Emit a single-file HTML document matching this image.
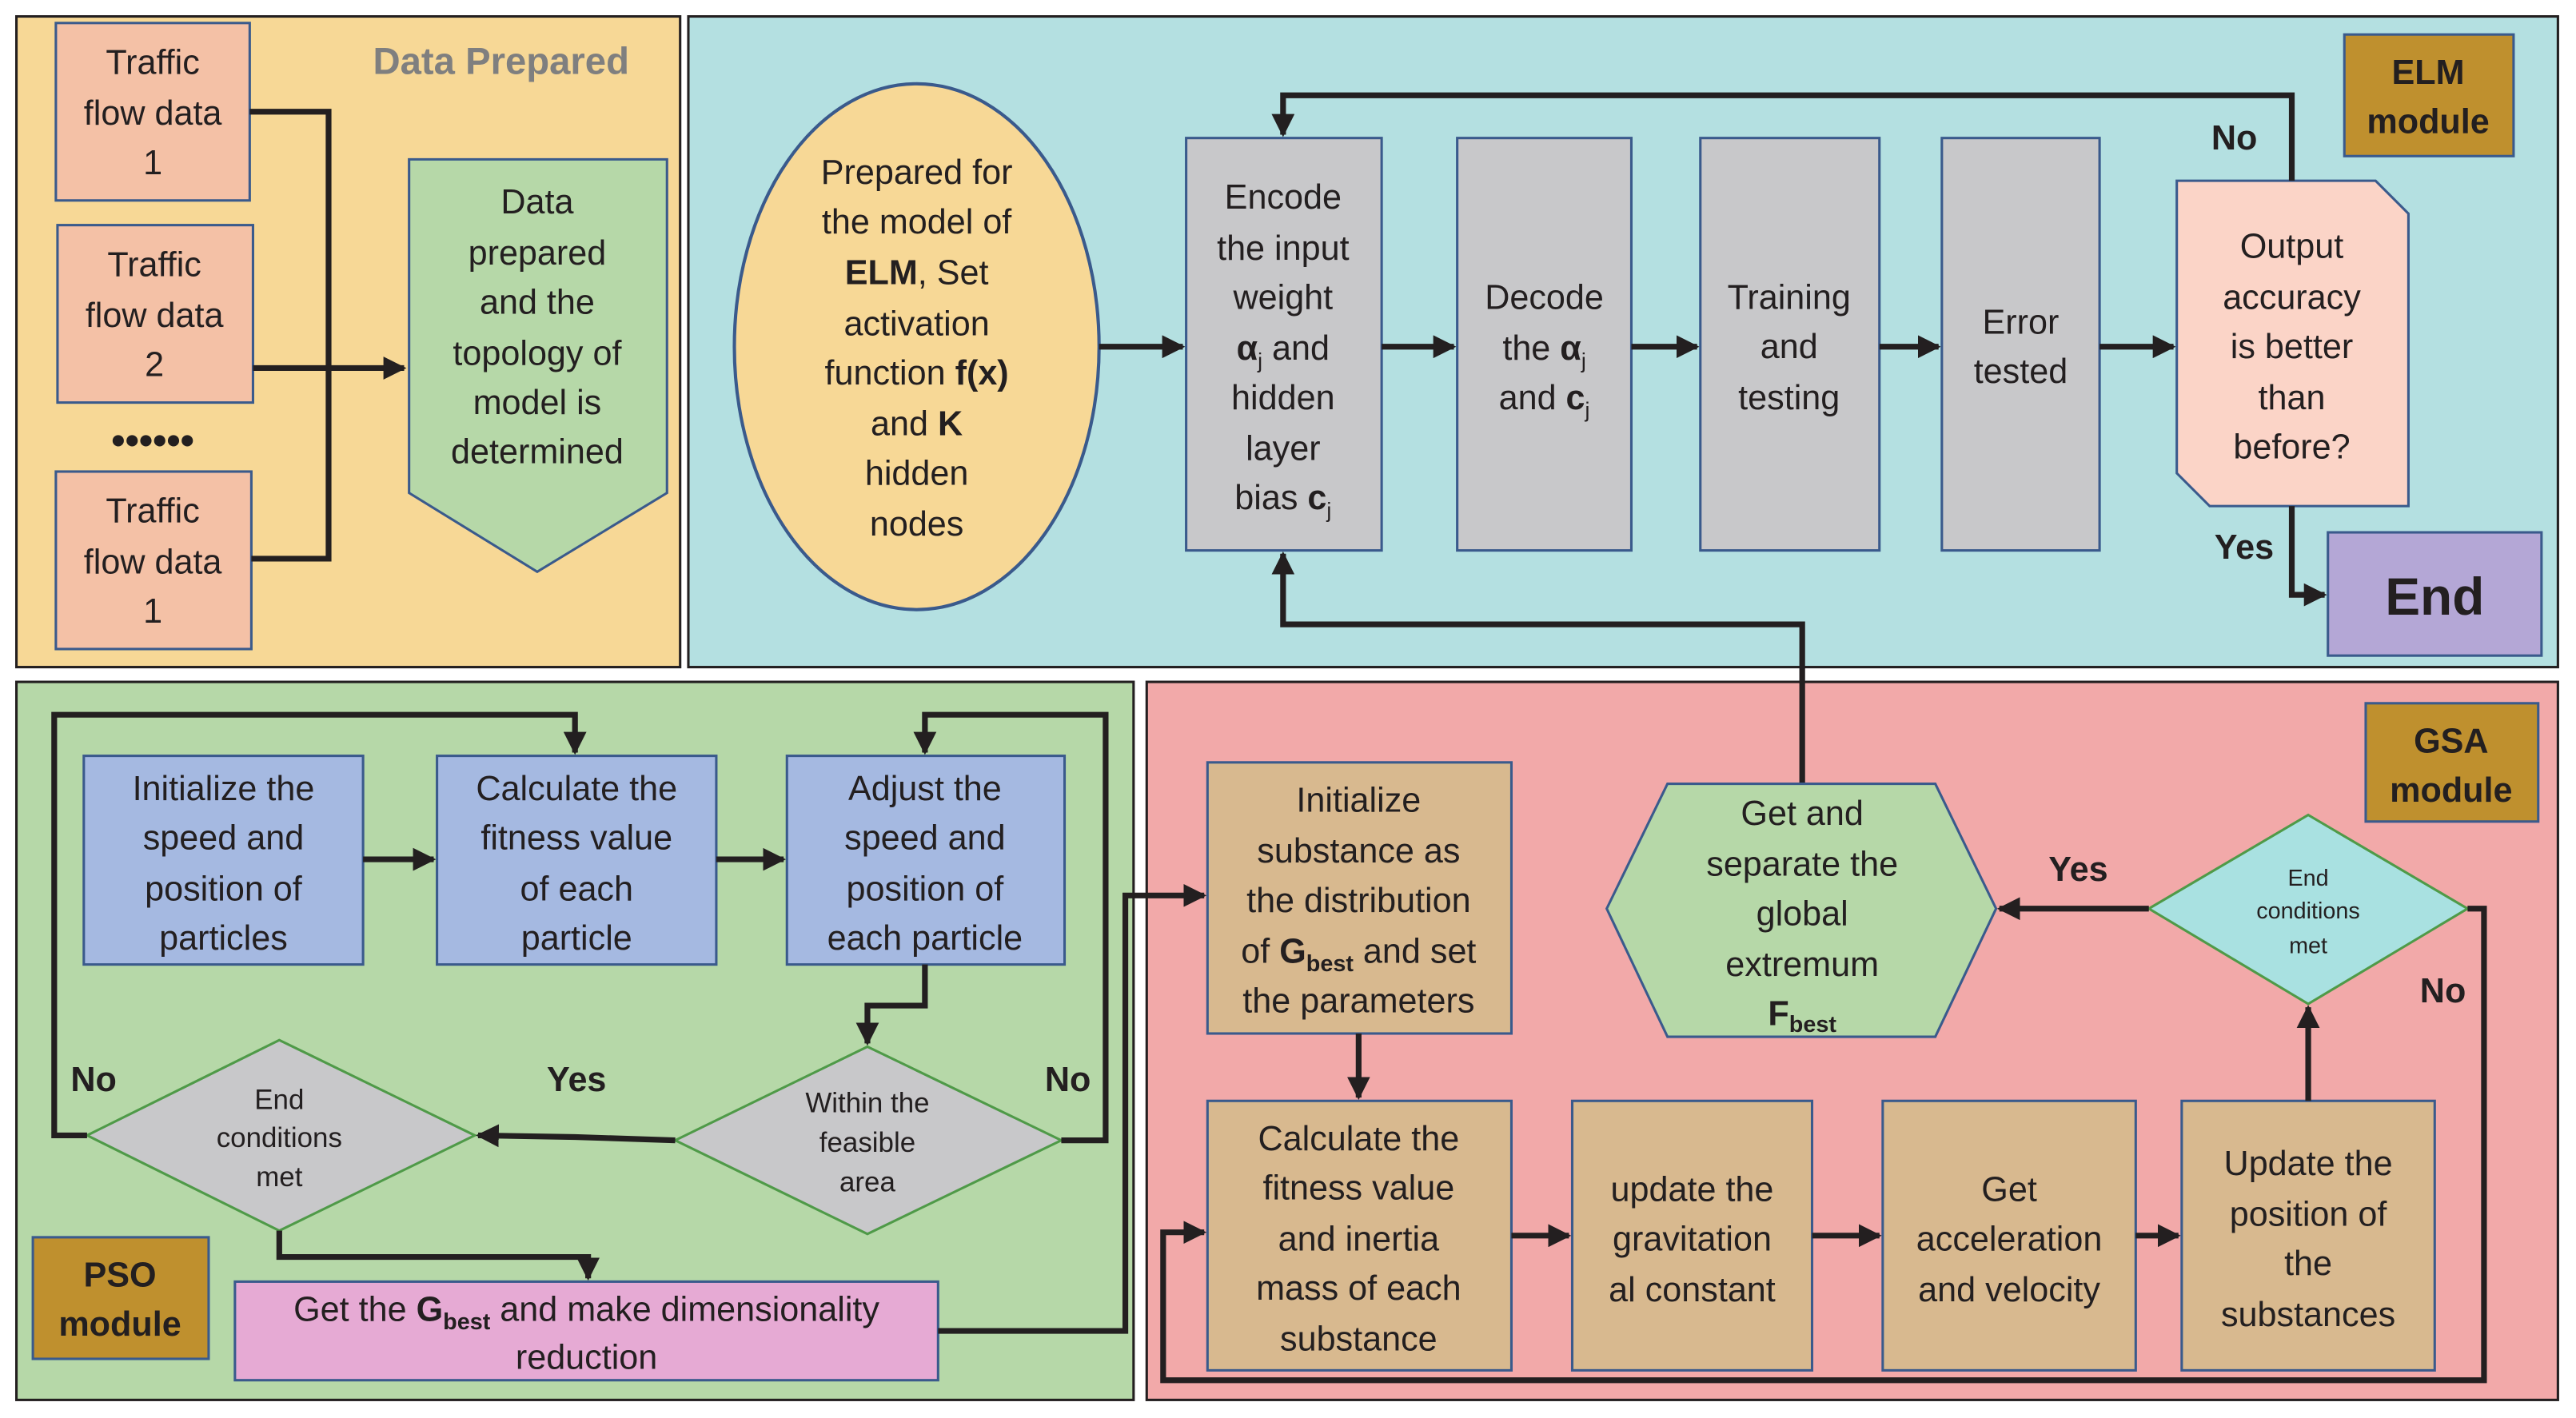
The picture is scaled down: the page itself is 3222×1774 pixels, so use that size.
<!DOCTYPE html>
<html><head><meta charset="utf-8"><style>
html,body{margin:0;padding:0;background:#fff;}
svg{display:block;}
text{font-family:"Liberation Sans",sans-serif;fill:#231f20;}
</style></head><body>
<svg width="3222" height="1774" viewBox="0 0 1568 863" preserveAspectRatio="none" xmlns="http://www.w3.org/2000/svg">
<defs>
<marker id="a" viewBox="0 0 10 10" refX="9" refY="5" markerWidth="4" markerHeight="4" orient="auto-start-reverse" markerUnits="strokeWidth"><path d="M0,0 L10,5 L0,10 z" fill="#231f20"/></marker>
</defs>
<rect width="1568" height="863" fill="#fff"/>
<!-- panels -->
<rect x="10" y="10" width="404" height="396" fill="#f7d896" stroke="#231f20" stroke-width="1.5"/>
<rect x="419" y="10" width="1138" height="396" fill="#b4e0e1" stroke="#231f20" stroke-width="1.5"/>
<rect x="10" y="415" width="680" height="437" fill="#b6d8a8" stroke="#231f20" stroke-width="1.5"/>
<rect x="698" y="415" width="859" height="437" fill="#f2a9a9" stroke="#231f20" stroke-width="1.5"/>

<g font-size="21" text-anchor="middle">
<!-- Data prepared -->
<text x="305" y="45" font-weight="bold" fill="#808080" style="fill:#7f7f7f" font-size="23">Data Prepared</text>
<g fill="#f4c1a6" stroke="#3a5a8c" stroke-width="1.5">
<rect x="34" y="14" width="118" height="108"/>
<rect x="35" y="137" width="119" height="108"/>
<rect x="34" y="287" width="119" height="108"/>
</g>
<text x="93" y="45">Traffic</text><text x="93" y="76">flow data</text><text x="93" y="106">1</text>
<text x="94" y="168">Traffic</text><text x="94" y="199">flow data</text><text x="94" y="229">2</text>
<text x="93" y="318">Traffic</text><text x="93" y="349">flow data</text><text x="93" y="379">1</text>
<text x="93" y="276" font-size="24" font-weight="bold">••••••</text>
<polygon points="249,97 406,97 406,300 327,348 249,300" fill="#b6d8a8" stroke="#3a5a8c" stroke-width="1.5"/>
<text x="327" y="130">Data</text><text x="327" y="161">prepared</text><text x="327" y="191">and the</text><text x="327" y="222">topology of</text><text x="327" y="252">model is</text><text x="327" y="282">determined</text>
<g stroke="#231f20" stroke-width="3.5" fill="none">
<polyline points="152,68 200,68 200,340 153,340"/>
<polyline points="154,224 246,224" marker-end="url(#a)"/>
</g>

<!-- ELM -->
<rect x="1427" y="21" width="103" height="74" fill="#bf902e" stroke="#3a5a8c" stroke-width="1.5"/>
<text x="1478" y="51" font-weight="bold">ELM</text><text x="1478" y="81" font-weight="bold">module</text>
<ellipse cx="558" cy="211" rx="111" ry="160" fill="#f7d896" stroke="#3a5a8c" stroke-width="2"/>
<text x="558" y="112">Prepared for</text><text x="558" y="142">the model of</text>
<text x="558" y="173"><tspan font-weight="bold">ELM</tspan>, Set</text><text x="558" y="204">activation</text>
<text x="558" y="234">function <tspan font-weight="bold">f(x)</tspan></text>
<text x="558" y="265">and <tspan font-weight="bold">K</tspan></text><text x="558" y="295">hidden</text><text x="558" y="326">nodes</text>
<g fill="#c8c8ca" stroke="#3a5a8c" stroke-width="1.5">
<rect x="722" y="84" width="119" height="251"/>
<rect x="887" y="84" width="106" height="251"/>
<rect x="1035" y="84" width="109" height="251"/>
<rect x="1182" y="84" width="96" height="251"/>
</g>
<text x="781" y="127">Encode</text><text x="781" y="158">the input</text><text x="781" y="188">weight</text>
<text x="781" y="219"><tspan font-weight="bold">α</tspan><tspan font-size="13" dy="5">j</tspan><tspan dy="-5"> and</tspan></text>
<text x="781" y="249">hidden</text><text x="781" y="280">layer</text>
<text x="781" y="310">bias  <tspan font-weight="bold">c</tspan><tspan font-size="13" dy="5">j</tspan></text>
<text x="940" y="188">Decode</text>
<text x="940" y="219">the <tspan font-weight="bold">α</tspan><tspan font-size="13" dy="5">j</tspan></text>
<text x="940" y="249">and <tspan font-weight="bold">c</tspan><tspan font-size="13" dy="5">j</tspan></text>
<text x="1089" y="188">Training</text><text x="1089" y="218">and</text><text x="1089" y="249">testing</text>
<text x="1230" y="203">Error</text><text x="1230" y="233">tested</text>
<polygon points="1325,110 1446,110 1466,130 1466,308 1345,308 1325,288" fill="#fbd4c7" stroke="#3a5a8c" stroke-width="1.5"/>
<text x="1395" y="157">Output</text><text x="1395" y="188">accuracy</text><text x="1395" y="218">is better</text><text x="1395" y="249">than</text><text x="1395" y="279">before?</text>
<rect x="1417" y="324" width="130" height="75" fill="#b4a7d6" stroke="#3a5a8c" stroke-width="1.5"/>
<text x="1482" y="374" font-size="32" font-weight="bold">End</text>
<text x="1360" y="91" font-weight="bold">No</text>
<text x="1366" y="340" font-weight="bold">Yes</text>
<g stroke="#231f20" stroke-width="3.5" fill="none">
<line x1="669" y1="211" x2="720" y2="211" marker-end="url(#a)"/>
<line x1="841" y1="211" x2="885" y2="211" marker-end="url(#a)"/>
<line x1="993" y1="211" x2="1033" y2="211" marker-end="url(#a)"/>
<line x1="1144" y1="211" x2="1180" y2="211" marker-end="url(#a)"/>
<line x1="1278" y1="211" x2="1323" y2="211" marker-end="url(#a)"/>
<polyline points="1395,110 1395,58 781,58 781,82" marker-end="url(#a)"/>
<polyline points="1395,308 1395,362 1415,362" marker-end="url(#a)"/>
<polyline points="1097,477 1097,380 781,380 781,337" marker-end="url(#a)"/>
</g>

<!-- GSA -->
<rect x="1440" y="428" width="105" height="72" fill="#bf902e" stroke="#3a5a8c" stroke-width="1.5"/>
<text x="1492" y="458" font-weight="bold">GSA</text><text x="1492" y="488" font-weight="bold">module</text>
<polygon points="978,553 1015,477 1178,477 1215,553 1178,631 1015,631" fill="#b6d8a8" stroke="#3a5a8c" stroke-width="1.5"/>
<text x="1097" y="502">Get and</text><text x="1097" y="533">separate the</text><text x="1097" y="563">global</text><text x="1097" y="594">extremum</text>
<text x="1097" y="624" font-weight="bold">F<tspan font-size="14" dy="4">best</tspan></text>
<polygon points="1308,553 1405,496 1502,553 1405,611" fill="#a9e1e1" stroke="#4f9a48" stroke-width="1.5"/>
<text x="1405" y="539" font-size="14">End</text><text x="1405" y="559" font-size="14">conditions</text><text x="1405" y="580" font-size="14">met</text>
<text x="1265" y="536" font-weight="bold">Yes</text>
<text x="1487" y="610" font-weight="bold">No</text>
<g fill="#d8b98f" stroke="#3a5a8c" stroke-width="1.5">
<rect x="735" y="464" width="185" height="165"/>
<rect x="735" y="670" width="185" height="164"/>
<rect x="957" y="670" width="146" height="164"/>
<rect x="1146" y="670" width="154" height="164"/>
<rect x="1328" y="670" width="154" height="164"/>
</g>
<text x="827" y="494">Initialize</text><text x="827" y="525">substance as</text><text x="827" y="555">the distribution</text>
<text x="827" y="586">of <tspan font-weight="bold">G</tspan><tspan font-weight="bold" font-size="14" dy="5">best</tspan><tspan dy="-5"> and set</tspan></text>
<text x="827" y="616">the parameters</text>
<text x="827" y="700">Calculate the</text><text x="827" y="730">fitness value</text><text x="827" y="761">and inertia</text><text x="827" y="791">mass of each</text><text x="827" y="822">substance</text>
<text x="1030" y="731">update the</text><text x="1030" y="761">gravitation</text><text x="1030" y="792">al constant</text>
<text x="1223" y="731">Get</text><text x="1223" y="761">acceleration</text><text x="1223" y="792">and velocity</text>
<text x="1405" y="715">Update the</text><text x="1405" y="746">position of</text><text x="1405" y="776">the</text><text x="1405" y="807">substances</text>
<g stroke="#231f20" stroke-width="3.5" fill="none">
<line x1="1308" y1="553" x2="1217" y2="553" marker-end="url(#a)"/>
<polyline points="1502,553 1512,553 1512,840 708,840 708,750 733,750" marker-end="url(#a)"/>
<line x1="827" y1="629" x2="827" y2="668" marker-end="url(#a)"/>
<line x1="920" y1="752" x2="955" y2="752" marker-end="url(#a)"/>
<line x1="1103" y1="752" x2="1144" y2="752" marker-end="url(#a)"/>
<line x1="1300" y1="752" x2="1326" y2="752" marker-end="url(#a)"/>
<line x1="1405" y1="670" x2="1405" y2="613" marker-end="url(#a)"/>
</g>

<!-- PSO -->
<rect x="20" y="753" width="107" height="74" fill="#bf902e" stroke="#3a5a8c" stroke-width="1.5"/>
<text x="73" y="783" font-weight="bold">PSO</text><text x="73" y="813" font-weight="bold">module</text>
<g fill="#a5b9e1" stroke="#3a5a8c" stroke-width="1.5">
<rect x="51" y="460" width="170" height="127"/>
<rect x="266" y="460" width="170" height="127"/>
<rect x="479" y="460" width="169" height="127"/>
</g>
<text x="136" y="487">Initialize the</text><text x="136" y="517">speed and</text><text x="136" y="548">position of</text><text x="136" y="578">particles</text>
<text x="351" y="487">Calculate the</text><text x="351" y="517">fitness value</text><text x="351" y="548">of each</text><text x="351" y="578">particle</text>
<text x="563" y="487">Adjust the</text><text x="563" y="517">speed and</text><text x="563" y="548">position of</text><text x="563" y="578">each particle</text>
<polygon points="411,694 528,637 646,694 528,751" fill="#c8c8ca" stroke="#4f9a48" stroke-width="1.5"/>
<text x="528" y="677" font-size="17">Within the</text><text x="528" y="701" font-size="17">feasible</text><text x="528" y="725" font-size="17">area</text>
<polygon points="53,691 170,633 289,691 170,749" fill="#c8c8ca" stroke="#4f9a48" stroke-width="1.5"/>
<text x="170" y="675" font-size="17">End</text><text x="170" y="698" font-size="17">conditions</text><text x="170" y="722" font-size="17">met</text>
<rect x="143" y="780" width="428" height="60" fill="#e6aad4" stroke="#3a5a8c" stroke-width="1.5"/>
<text x="357" y="804"><tspan>Get the </tspan><tspan font-weight="bold">G</tspan><tspan font-weight="bold" font-size="14" dy="5">best</tspan><tspan dy="-5"> and make dimensionality</tspan></text>
<text x="357" y="833">reduction</text>
<text x="351" y="664" font-weight="bold">Yes</text>
<text x="650" y="664" font-weight="bold">No</text>
<text x="57" y="664" font-weight="bold">No</text>
<g stroke="#231f20" stroke-width="3.5" fill="none">
<line x1="221" y1="523" x2="264" y2="523" marker-end="url(#a)"/>
<line x1="436" y1="523" x2="477" y2="523" marker-end="url(#a)"/>
<polyline points="563,587 563,612 528,612 528,635" marker-end="url(#a)"/>
<polyline points="411,694 350,692 291,691" marker-end="url(#a)"/>
<polyline points="646,694 673,694 673,435 563,435 563,458" marker-end="url(#a)"/>
<polyline points="53,691 33,691 33,435 350,435 350,458" marker-end="url(#a)"/>
<polyline points="170,749 170,765 358,765 358,778" marker-end="url(#a)"/>
<polyline points="571,810 685,810 685,545 733,545" marker-end="url(#a)"/>
</g>
</g>
</svg>
</body></html>
